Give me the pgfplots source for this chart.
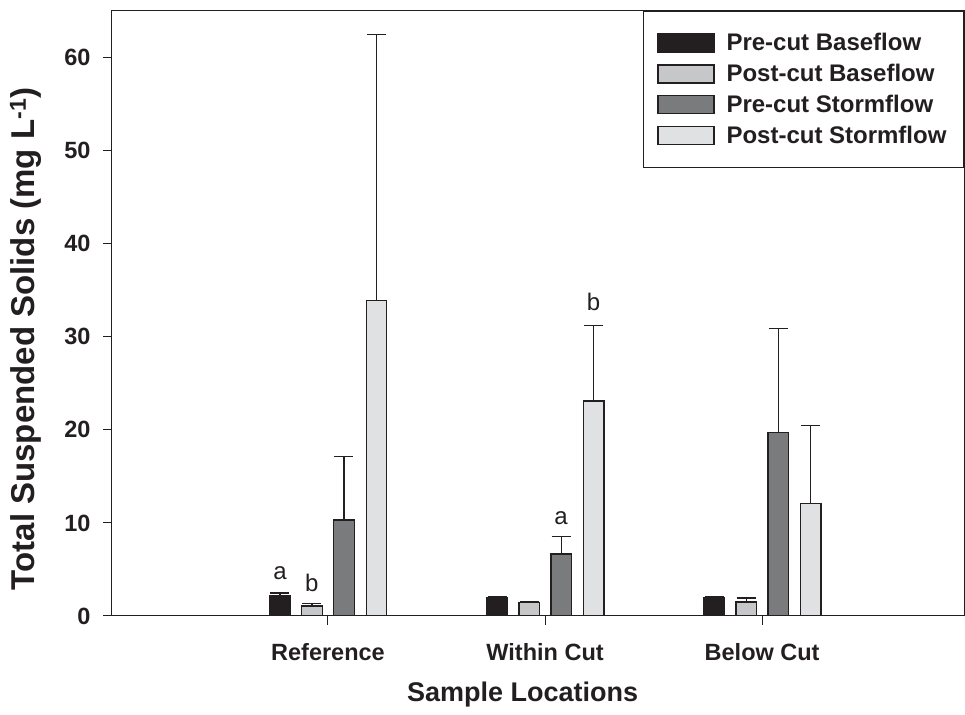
\documentclass[border=0pt]{standalone}
\usepackage{pgfplots}
\pgfplotsset{compat=1.18}
\usepackage{fontspec}
\setmainfont{Liberation Sans}
\definecolor{cblack}{HTML}{231F20}
\definecolor{clgray}{HTML}{C6C7C8}
\definecolor{cdgray}{HTML}{7A7B7D}
\definecolor{cvlgray}{HTML}{E0E1E2}
\begin{document}
\begin{tikzpicture}
\begin{axis}[
  scale only axis,
  width=852pt, height=605pt,
  xmin=-0.995, xmax=2.93,
  ymin=0, ymax=65,
  axis line style={line width=1pt, cblack},
  xtick={0,1,2},
  xticklabels={Reference, Within Cut, Below Cut},
  ytick={0,10,20,30,40,50,60},
  xtick pos=bottom, ytick pos=left,
  tick align=outside,
  major tick length=9pt,
  tick style={line width=1pt, cblack},
  ticklabel style={font=\fontsize{23.5}{26}\selectfont\bfseries, text=cblack},
  /pgf/number format/assume math mode=true,
  xticklabel style={yshift=-15pt},
  yticklabel style={xshift=-9pt},
  xlabel={Sample Locations},
  ylabel={Total Suspended Solids (mg L\textsuperscript{-1})},
  xlabel style={font=\fontsize{27}{30}\selectfont\bfseries, text=cblack,
    at={(axis description cs:0.482,-0.13)}, anchor=center},
  ylabel style={font=\fontsize{33}{36}\selectfont\bfseries, text=cblack,
    at={(axis description cs:-0.101,0.458)}, anchor=center},
  ybar, bar width=20.5pt,
  every axis plot/.append style={draw=cblack, line width=1.4pt},
  error bars/y dir=plus, error bars/y explicit,
  error bars/error bar style={line width=1.1pt, cblack},
  error bars/error mark options={rotate=90, mark size=9.5pt, line width=1.1pt, cblack},
  legend style={at={(rel axis cs:1,1)}, anchor=north east, draw=cblack, line width=1pt,
    font=\fontsize{24}{27}\selectfont\bfseries, text=cblack,
    inner xsep=14pt, inner ysep=19pt, row sep=6pt,
    nodes={inner sep=3pt},
    /tikz/every odd column/.append style={column sep=9pt}},
  legend cell align=left,
  legend image code/.code={\draw[#1, line width=1.4pt] (0pt,-9pt) rectangle (56pt,9pt);},
]
\addplot[fill=cblack, bar shift=-48pt] coordinates {
  (0,2.14) +- (0,0.33)
  (1,1.93) +- (0,0.11)
  (2,1.93) +- (0,0.21)};
\addplot[fill=clgray, bar shift=-16pt] coordinates {
  (0,1.07) +- (0,0.32)
  (1,1.45) +- (0,0.06)
  (2,1.50) +- (0,0.43)};
\addplot[fill=cdgray, bar shift=16pt] coordinates {
  (0,10.3) +- (0,6.8)
  (1,6.65) +- (0,1.92)
  (2,19.7) +- (0,11.2)};
\addplot[fill=cvlgray, bar shift=48.5pt] coordinates {
  (0,33.9) +- (0,28.6)
  (1,23.1) +- (0,8.1)
  (2,12.1) +- (0,8.4)};
\legend{Pre-cut Baseflow, Post-cut Baseflow, Pre-cut Stormflow, Post-cut Stormflow}
\node[font=\fontsize{24}{27}\selectfont, text=cblack] at (axis cs:-0.221,4.6) {a};
\node[font=\fontsize{24}{27}\selectfont, text=cblack] at (axis cs:-0.074,3.6) {b};
\node[font=\fontsize{24}{27}\selectfont, text=cblack] at (axis cs:1.074,10.5) {a};
\node[font=\fontsize{24}{27}\selectfont, text=cblack] at (axis cs:1.223,33.7) {b};
\end{axis}
\pgfresetboundingbox
\path[use as bounding box] ([xshift=-112pt,yshift=-99pt]current axis.south west) rectangle ([xshift=1pt,yshift=11pt]current axis.north east);
\end{tikzpicture}
\end{document}
